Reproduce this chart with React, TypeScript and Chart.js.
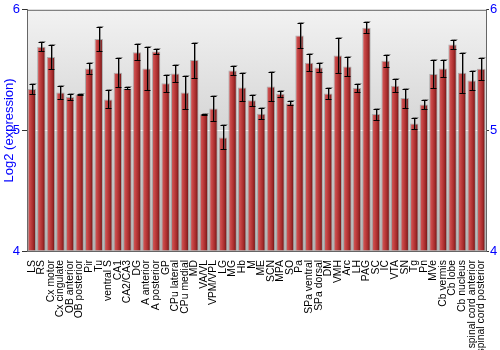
import React, { useEffect, useRef } from "react";
import { Chart, registerables } from "chart.js";

Chart.register(...registerables);

const categories = [
  "LS", "RS", "Cx motor", "Cx cingulate", "OB anterior", "OB posterior", "Pir", "Tu",
  "ventral S", "CA1", "CA2/CA3", "DG", "A anterior", "A posterior", "GP", "CPu lateral",
  "CPu medial", "MD", "VA/VL", "VPM/VPL", "LG", "MG", "Hb", "M", "ME", "SCN", "MPA", "SO",
  "Pa", "SPa ventral", "SPa dorsal", "DM", "VMH", "Arc", "LH", "PAG", "SC", "IC", "VTA",
  "SN", "Tg", "Pn", "MVe", "Cb vermis", "Cb lobe", "Cb nucleus", "spinal cord anterior",
  "spinal cord posterior",
];

const values = [
  5.343, 5.693, 5.608, 5.315, 5.276, 5.298, 5.514, 5.757,
  5.257, 5.478, 5.348, 5.649, 5.514, 5.655, 5.39, 5.472,
  5.315, 5.583, 5.133, 5.182, 4.942, 5.497, 5.356, 5.249, 5.138, 5.365, 5.304, 5.224,
  5.787, 5.561, 5.522, 5.307, 5.622, 5.53, 5.351, 5.851, 5.135, 5.577, 5.37,
  5.268, 5.058, 5.215, 5.467, 5.514, 5.713, 5.478, 5.414,
  5.511,
];

const errors = [
  0.04, 0.037, 0.1, 0.055, 0.022, 0.004, 0.045, 0.1,
  0.075, 0.12, 0.008, 0.066, 0.178, 0.02, 0.068, 0.068,
  0.137, 0.145, 0.003, 0.105, 0.1, 0.036, 0.116, 0.047, 0.045, 0.119, 0.026, 0.017,
  0.105, 0.072, 0.037, 0.048, 0.146, 0.077, 0.03, 0.046, 0.046, 0.051, 0.055,
  0.079, 0.046, 0.037, 0.115, 0.07, 0.036, 0.166, 0.081,
  0.093,
];

const yTicks = [4, 5, 6];

const FONT = "'Liberation Sans', Arial, sans-serif";

const bgPlugin = {
  id: "bgPlugin",
  beforeDraw(chart: any) {
    const { ctx, chartArea: a } = chart;
    const g = ctx.createLinearGradient(0, a.top, 0, a.bottom);
    g.addColorStop(0, "#f2f2f2");
    g.addColorStop(1, "#b8b8b8");
    ctx.save();
    ctx.fillStyle = g;
    ctx.fillRect(a.left, a.top, a.right - a.left, a.bottom - a.top);
    ctx.restore();
  },
  afterDraw(chart: any) {
    const { ctx, chartArea: a } = chart;
    ctx.save();
    ctx.strokeStyle = "#666";
    ctx.lineWidth = 1;
    ctx.beginPath();
    ctx.moveTo(a.left, a.top + 0.5);
    ctx.lineTo(a.right, a.top + 0.5);
    ctx.stroke();
    ctx.restore();
  },
};

const errPlugin = {
  id: "errPlugin",
  afterDatasetsDraw(chart: any) {
    const { ctx } = chart;
    const x = chart.scales.x;
    const y = chart.scales.y;
    ctx.save();
    ctx.lineWidth = 1;
    values.forEach((v, i) => {
      const px = Math.round(x.getPixelForValue(i)) + 0.5;
      const top = Math.round(y.getPixelForValue(v + errors[i])) + 0.5;
      const bot = Math.round(y.getPixelForValue(v - errors[i])) + 0.5;
      ctx.strokeStyle = "rgba(90,90,90,0.6)";
      ctx.beginPath();
      ctx.moveTo(px + 1, top - 1);
      ctx.lineTo(px + 1, bot - 1);
      ctx.moveTo(px - 2, top - 1);
      ctx.lineTo(px + 4, top - 1);
      ctx.stroke();
      ctx.strokeStyle = "#000";
      ctx.beginPath();
      ctx.moveTo(px, top);
      ctx.lineTo(px, bot);
      ctx.moveTo(px - 3, top);
      ctx.lineTo(px + 3, top);
      ctx.moveTo(px - 3, bot);
      ctx.lineTo(px + 3, bot);
      ctx.stroke();
    });
    ctx.restore();
  },
};

export default function App() {
  const ref = useRef<HTMLCanvasElement>(null);
  useEffect(() => {
    const canvas = ref.current!;
    const chart = new Chart(canvas, {
      type: "bar",
      data: {
        labels: categories,
        datasets: [
          {
            data: values,
            base: 4,
            backgroundColor: (c: any) => {
              const ch = c.chart;
              const sx = ch.scales && ch.scales.x;
              if (!sx || c.dataIndex === undefined) return "#b03030";
              const cx = sx.getPixelForValue(c.dataIndex);
              if (!isFinite(cx)) return "#b03030";
              const hw = 4.2;
              const g = ch.ctx.createLinearGradient(cx - hw, 0, cx + hw, 0);
              g.addColorStop(0, "#cc6464");
              g.addColorStop(0.3, "#c84646");
              g.addColorStop(0.65, "#a62c2c");
              g.addColorStop(1, "#601010");
              return g;
            },
            borderColor: "rgba(150,150,150,0.7)",
            borderWidth: 1,
            barPercentage: 0.88,
            categoryPercentage: 1,
          } as any,
        ],
      },
      options: {
        animation: false,
        responsive: false,
        maintainAspectRatio: false,
        layout: { padding: { top: 9, left: 0, right: 0, bottom: 0 } },
        plugins: { legend: { display: false }, tooltip: { enabled: false } },
        scales: {
          x: {
            grid: { display: false },
            border: { color: "#666" },
            ticks: {
              autoSkip: false,
              maxRotation: 90,
              minRotation: 90,
              color: "#000",
              padding: 1,
              font: { family: FONT, size: 10.4 },
            },
            afterFit: (s: any) => {
              s.height = 99;
            },
          },
          y: {
            min: 4,
            max: 6,
            afterBuildTicks: (s: any) => {
              s.ticks = yTicks.map((v) => ({ value: v }));
            },
            ticks: {
              color: "#0000ff",
              padding: 2,
              font: { family: FONT, size: 13 },
            },
            grid: {
              color: (c: any) =>
                c.tick && c.tick.value === 5 ? "rgba(255,255,255,0.85)" : "rgba(0,0,0,0)",
              tickColor: "#333",
              tickLength: 5,
            },
            border: { color: "#666" },
            title: {
              display: true,
              text: "Log2 (expression)",
              color: "#0000ff",
              font: { family: FONT, size: 13 },
              padding: { top: 2, bottom: 0 },
            },
            afterFit: (s: any) => {
              s.width = 27;
            },
          },
          y2: {
            position: "right",
            min: 4,
            max: 6,
            afterBuildTicks: (s: any) => {
              s.ticks = yTicks.map((v) => ({ value: v }));
            },
            ticks: {
              color: "#0000ff",
              padding: 1,
              font: { family: FONT, size: 13 },
            },
            grid: { drawOnChartArea: false, tickColor: "#333", tickLength: 3 },
            border: { color: "#666" },
            afterFit: (s: any) => {
              s.width = 14;
            },
          },
        },
      } as any,
      plugins: [bgPlugin, errPlugin],
    });
    return () => chart.destroy();
  }, []);
  return (
    <div style={{ position: "fixed", left: 0, top: 0, width: 500, height: 350, background: "#fff" }}>
      <canvas ref={ref} width={500} height={350} style={{ width: 500, height: 350 }} />
    </div>
  );
}
